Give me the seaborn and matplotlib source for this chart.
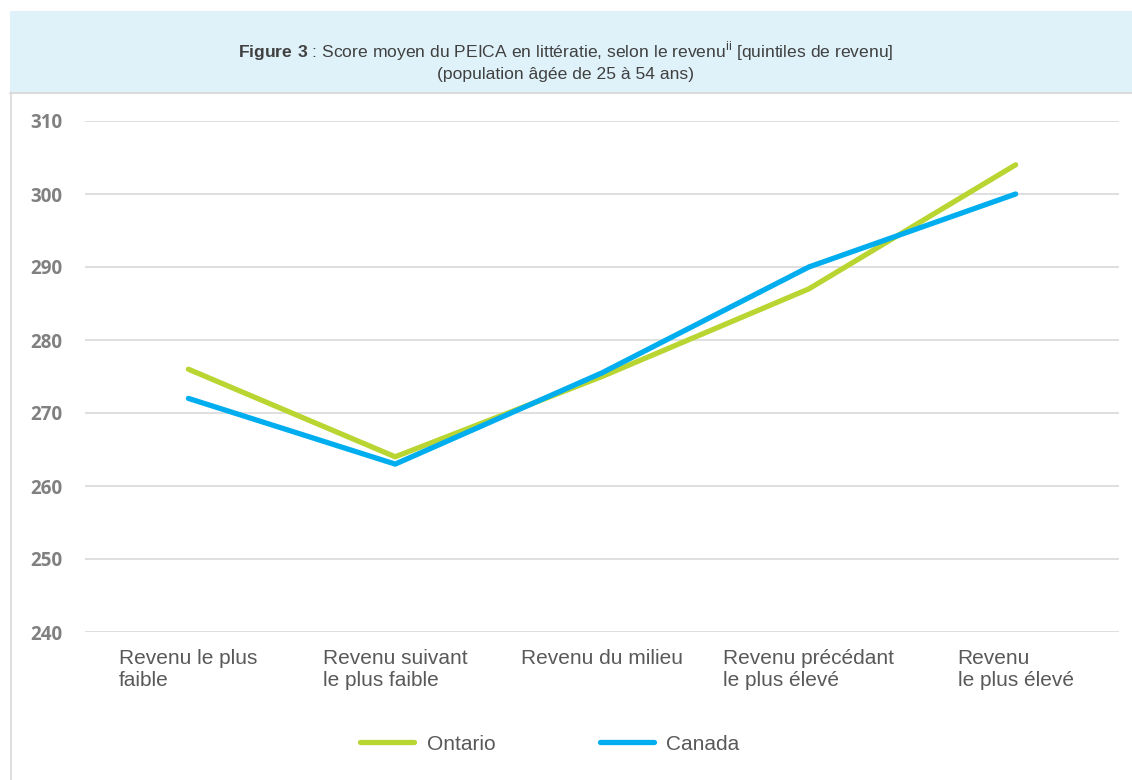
import pandas as pd
import matplotlib.pyplot as plt
import seaborn as sns
from matplotlib.patches import Rectangle
from matplotlib.lines import Line2D

# Données
categories = ["Revenu le plus\nfaible", "Revenu suivant\nle plus faible", "Revenu du milieu",
              "Revenu précédant\nle plus élevé", "Revenu\nle plus élevé"]
ontario = [276, 264, 275, 287, 304]
canada = [272, 263, 275.5, 290, 300]
series_names = ["Ontario", "Canada"]
y_ticks = [240, 250, 260, 270, 280, 290, 300, 310]

df = pd.DataFrame({
    "x": list(range(len(categories))) * 2,
    "score": ontario + canada,
    "region": [series_names[0]] * len(ontario) + [series_names[1]] * len(canada),
})

sns.set_theme(style="white")
plt.rcParams["font.family"] = ["Liberation Sans", "DejaVu Sans"]
plt.rcParams["mathtext.fontset"] = "custom"
plt.rcParams["mathtext.rm"] = "Liberation Sans"
plt.rcParams["mathtext.bf"] = "Liberation Sans:bold"

W, H = 1132, 780
fig = plt.figure(figsize=(W / 100, H / 100), dpi=100)
fig.patch.set_facecolor("white")

# bandeau du titre + bordure gauche
fig.patches.append(Rectangle((10 / W, 1 - 92 / H), 1 - 10 / W, 81 / H, transform=fig.transFigure,
                             facecolor="#dff2fa", edgecolor="none", zorder=0))
fig.lines.append(Line2D([10 / W, 1], [1 - 92.5 / H, 1 - 92.5 / H], transform=fig.transFigure,
                        color="#d4d4d4", lw=1.2))
fig.lines.append(Line2D([10.5 / W, 10.5 / W], [0, 1 - 92 / H], transform=fig.transFigure,
                        color="#d9d9d9", lw=1.2))

fig.text(0.5, 1 - 61 / H,
         r"$\mathbf{Figure\ 3}$ : Score moyen du PEICA en littératie, selon le revenu$^{\mathrm{ii}}$ [quintiles de revenu]"
         "\n(population âgée de 25 à 54 ans)",
         ha="center", va="center", fontsize=12.6, color="#404040", linespacing=1.3)

ax = fig.add_axes([85 / W, 1 - 632 / H, (1119 - 85) / W, (632 - 121) / H])
sns.lineplot(data=df, x="x", y="score", hue="region", hue_order=series_names,
             palette=["#b9d532", "#00aeef"], linewidth=3.8, sort=False, ax=ax,
             solid_capstyle="round")

ax.set_xlim(-0.5, len(categories) - 0.5)
ax.set_ylim(240, 310)
ax.set_yticks(y_ticks)
ax.set_xticks(range(len(categories)))
ax.set_xticklabels(categories, ha="center", multialignment="left", fontsize=15, color="#595959")
ax.set_yticklabels([str(v) for v in y_ticks], fontsize=13.5, color="#808080",
                   fontfamily="Open Sans", fontweight="bold")
ax.tick_params(axis="x", length=0, pad=12)
ax.tick_params(axis="y", length=0, pad=16)
ax.grid(axis="y", color="#d9d9d9", linewidth=1.2)
ax.set_axisbelow(True)
for s in ax.spines.values():
    s.set_visible(False)
ax.set_xlabel("")
ax.set_ylabel("")

ax.legend_.remove()
handles = [Line2D([], [], color="#b9d532", lw=3.8, solid_capstyle="round"),
           Line2D([], [], color="#00aeef", lw=3.8, solid_capstyle="round")]
fig.legend(handles, series_names, loc="center", bbox_to_anchor=(550 / W, 1 - 744 / H),
           ncol=2, frameon=False, fontsize=15, handlelength=2.6, handletextpad=0.6,
           columnspacing=5.0, labelcolor="#595959")

fig.savefig("out.png", dpi=100)
